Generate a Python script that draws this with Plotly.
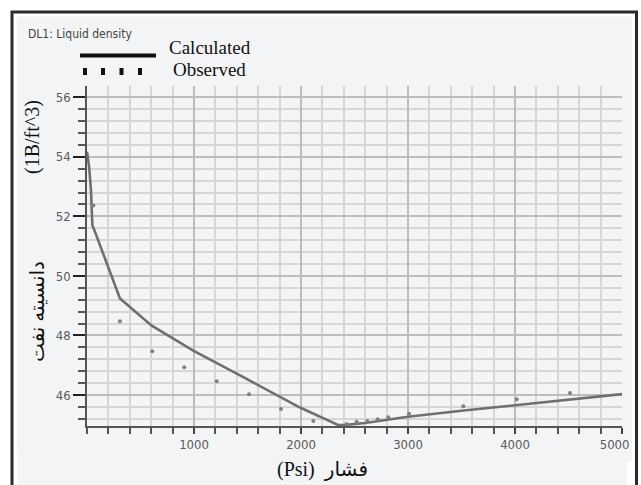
import plotly.graph_objects as go

# ---- data ----
calc_p = [0, 20, 37, 50, 75, 308, 605, 993, 1492, 1991, 2350, 2400, 2600, 3000, 3500, 4000, 4500, 5000]
calc_rho = [54.17, 53.66, 52.88, 51.70, 51.48, 49.24, 48.33, 47.49, 46.54, 45.58, 44.99, 44.99, 45.06, 45.27, 45.47, 45.66, 45.85, 46.03]

obs_p = [59, 308, 610, 909, 1212, 1514, 1813, 2115, 2427, 2520, 2620, 2717, 2816, 3010, 3517, 4016, 4514]
obs_rho = [52.37, 48.48, 47.47, 46.93, 46.46, 46.03, 45.53, 45.13, 45.03, 45.10, 45.13, 45.19, 45.25, 45.37, 45.62, 45.86, 46.07]

x_ticks = [1000, 2000, 3000, 4000, 5000]
x_ticktext = ["1000", "2000", "3000", "4000", "5000\u00a0\u00a0\u00a0\u00a0"]
x_minor = list(range(0, 5001, 200))
y_ticks = [46, 48, 50, 52, 54, 56]
y_minor = [round(45.2 + 0.4 * i, 1) for i in range(28)]

x_range = [0, 5000]
y_range = [44.96, 56.38]

# ---- layout geometry (pixels) ----
W, H = 641, 485
L, R, T, B = 87, 622, 86, 426


def fx(px):
    return (px - L) / (R - L)


def fy(py):
    return (B - py) / (B - T)


PANEL = "#f3f4f6"

fig = go.Figure()
fig.add_trace(go.Scatter(x=calc_p, y=calc_rho, mode="lines", name="Calculated",
                         line=dict(color="#6f6f6f", width=2.6), showlegend=False))
fig.add_trace(go.Scatter(x=obs_p, y=obs_rho, mode="markers", name="Observed",
                         marker=dict(color="#808080", size=4, symbol="circle"), showlegend=False))

tickfont = dict(family="DejaVu Sans Condensed, Liberation Sans Narrow, Liberation Sans", size=13, color="#5a5a5a")

fig.update_xaxes(range=x_range, tickmode="array", tickvals=x_ticks, ticktext=x_ticktext,
                 ticks="outside", ticklen=6, tickwidth=1.5, tickcolor="#444",
                 ticklabeloverflow="allow",
                 showline=True, linecolor="#555", linewidth=1.5,
                 showgrid=True, gridcolor="#bdbdbd", gridwidth=1.5,
                 zeroline=False, tickfont=tickfont, automargin=False,
                 minor=dict(tickmode="array", tickvals=x_minor, ticks="outside", ticklen=6,
                            tickwidth=1.5, tickcolor="#555", showgrid=True,
                            gridcolor="#d6d6d6", gridwidth=1.5))
fig.update_yaxes(range=y_range, tickmode="array", tickvals=y_ticks,
                 ticks="outside", ticklen=12, tickwidth=2, tickcolor="#222",
                 showline=True, linecolor="#555", linewidth=1.5,
                 showgrid=True, gridcolor="#bdbdbd", gridwidth=1.5,
                 zeroline=False, tickfont=tickfont, automargin=False,
                 minor=dict(tickmode="array", tickvals=y_minor, ticks="outside", ticklen=7,
                            tickwidth=1.5, tickcolor="#555", showgrid=True,
                            gridcolor="#d6d6d6", gridwidth=1.5))


def rect_px(x0, x1, y0, y1, **kw):
    return dict(type="rect", xref="paper", yref="paper", x0=fx(x0), x1=fx(x1),
                y0=fy(y0), y1=fy(y1), **kw)


white = dict(fillcolor="white", line=dict(width=0))
shapes = [
    # white surround outside the grey panel
    rect_px(-5, W + 5, -5, 16.5, **white),
    rect_px(-5, 16.5, -5, H + 5, **white),
    rect_px(632, W + 5, -5, H + 5, **white),
    rect_px(627, W + 5, 462, H + 5, **white),
    rect_px(-5, 17.5, 450, H + 5, **white),
    # outer frame
    rect_px(12, 636.5, 12, 500, fillcolor="rgba(0,0,0,0)", line=dict(color="#2b2b2b", width=3)),
    # legend line
    dict(type="line", xref="paper", yref="paper", x0=fx(80), x1=fx(156), y0=fy(55.5), y1=fy(55.5),
         line=dict(color="#111", width=4)),
]
for cx in [85, 103, 121.5, 140]:
    shapes.append(rect_px(cx - 2, cx + 2, 68, 75, fillcolor="#111", line=dict(width=0)))

serif = "Liberation Serif, DejaVu Serif, DejaVu Sans"
annotations = [
    dict(text="DL1: Liquid density", xref="paper", yref="paper", x=fx(26), y=fy(34),
         xanchor="left", yanchor="middle", showarrow=False,
         font=dict(family="DejaVu Sans Condensed, Liberation Sans Narrow, Liberation Sans", size=12, color="#444")),
    dict(text="Calculated", xref="paper", yref="paper", x=fx(167), y=fy(48),
         xanchor="left", yanchor="middle", showarrow=False,
         font=dict(family=serif, size=19, color="#111")),
    dict(text="Observed", xref="paper", yref="paper", x=fx(171), y=fy(70),
         xanchor="left", yanchor="middle", showarrow=False,
         font=dict(family=serif, size=19, color="#111")),
    dict(text="(1B/ft^3)", xref="paper", yref="paper", x=fx(32), y=fy(137),
         xanchor="center", yanchor="middle", textangle=-90, showarrow=False,
         font=dict(family=serif, size=20, color="#111")),
    dict(text="دانسیته نفت", xref="paper", yref="paper", x=fx(37), y=fy(312),
         xanchor="center", yanchor="middle", textangle=-90, showarrow=False,
         font=dict(family=serif, size=20, color="#111")),
    dict(text="(Psi)  فشار", xref="paper", yref="paper", x=fx(322), y=fy(469),
         xanchor="center", yanchor="middle", showarrow=False,
         font=dict(family=serif, size=20, color="#111")),
]

fig.update_layout(width=W, height=H, margin=dict(l=L, r=W - R, t=T, b=H - B),
                  paper_bgcolor=PANEL, plot_bgcolor=PANEL,
                  shapes=shapes, annotations=annotations, showlegend=False)

fig.write_html("out.html", config={"displayModeBar": False},
               post_script="document.body.style.margin='0';document.body.style.overflow='hidden';")
